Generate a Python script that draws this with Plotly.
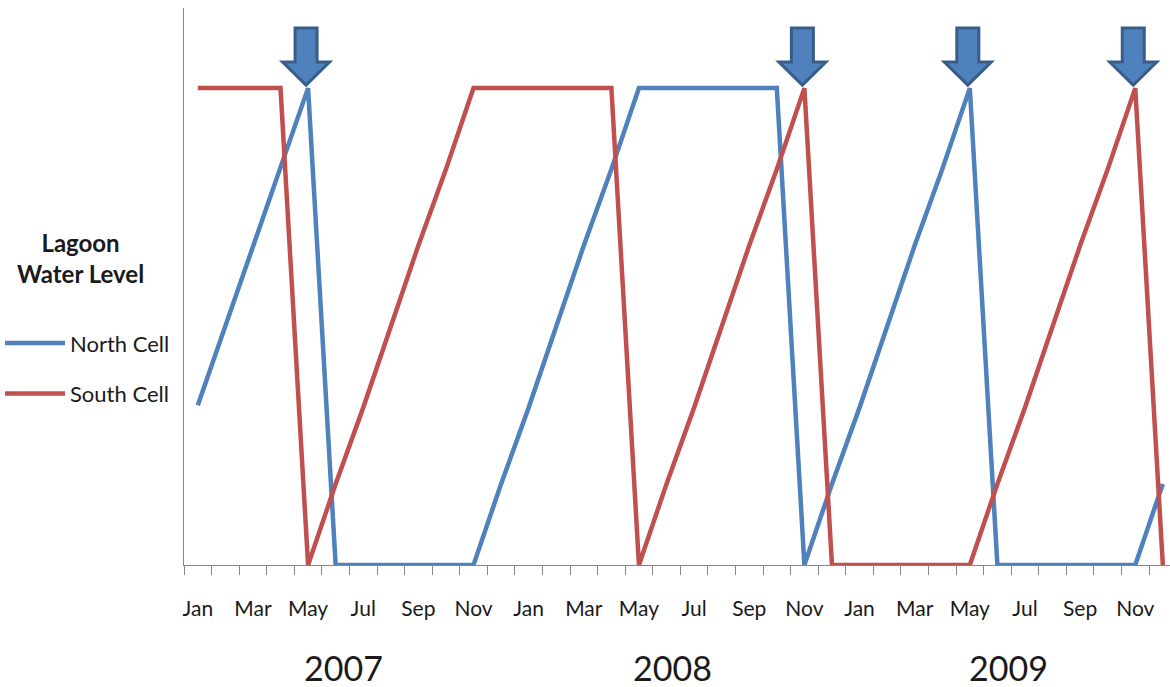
import plotly.graph_objects as go

# Monthly series, Jan 2007 - Dec 2009 (relative lagoon level, 0 = empty, 100 = full)
months = ["Jan", "Feb", "Mar", "Apr", "May", "Jun",
          "Jul", "Aug", "Sep", "Oct", "Nov", "Dec"] * 3
years = ["2007", "2008", "2009"]

north_cell = [33.5, 50, 67, 83, 100, 0, 0, 0, 0, 0, 0, 17,
              33, 50, 67, 83, 100, 100, 100, 100, 100, 100, 0, 17,
              33, 50, 67, 83, 100, 0, 0, 0, 0, 0, 0, 17]
south_cell = [100, 100, 100, 100, 0, 17, 33, 50, 67, 83, 100, 100,
              100, 100, 100, 100, 0, 17, 33, 50, 67, 83, 100, 0,
              0, 0, 0, 0, 0, 17, 33, 50, 67, 83, 100, 0]

# months where a cell reaches full level and is drained (marked by arrows)
drain_months = [4, 22, 28, 34]

FONT = "Lato, 'DejaVu Sans', sans-serif"
BLUE = "#4F81BD"
RED = "#C0504D"
AXIS = "#868686"
TEXT = "#1a1a1a"

# plot area geometry in pixels
WIDTH, HEIGHT = 1170, 687
M_L, M_R, M_T, M_B = 183, 0, 8, 122
plot_w = WIDTH - M_L - M_R
plot_h = HEIGHT - M_T - M_B

idx = list(range(len(months)))

fig = go.Figure()
fig.add_trace(go.Scatter(x=idx, y=north_cell, mode="lines", name="North Cell",
                         legendgroup="n", line=dict(color=BLUE, width=4.5)))
fig.add_trace(go.Scatter(x=idx, y=south_cell, mode="lines", name="South Cell",
                         legendgroup="s", line=dict(color=RED, width=4.5)))

# block arrows pointing down at the peaks, sized in pixels
arrow_path = ("M -2,3 L -25.5,26 L -13,26 L -13,60 L 9,60 L 9,26 L 21.5,26 Z")
for m in drain_months:
    fig.add_shape(type="path", xref="x", yref="y",
                  xsizemode="pixel", ysizemode="pixel",
                  xanchor=m, yanchor=max(north_cell[m], south_cell[m]),
                  path=arrow_path, fillcolor=BLUE,
                  line=dict(color="#385D8A", width=3), layer="above")

# year labels under the month ticks
year_x = [5.3, 17.2, 29.4]
for x, yr in zip(year_x, years):
    fig.add_annotation(x=x, y=0, xref="x", yref="paper", yshift=-102,
                       yanchor="middle",
                       text=yr, showarrow=False,
                       font=dict(size=34, color=TEXT, family=FONT))

# legend heading, centred over the legend entries
fig.add_annotation(x=(79 - M_L) / plot_w, y=(HEIGHT - M_B - 258) / plot_h,
                   xref="paper", yref="paper", xanchor="center", yanchor="middle",
                   text="<b>Lagoon<br>Water Level</b>", showarrow=False,
                   align="center", font=dict(size=24, color=TEXT, family=FONT))

fig.update_layout(
    width=WIDTH, height=HEIGHT,
    margin=dict(l=M_L, r=M_R, t=M_T, b=M_B),
    paper_bgcolor="white", plot_bgcolor="white",
    font=dict(family=FONT, color=TEXT),
    showlegend=True,
    legend=dict(x=-0.187, xanchor="left", y=0.436, yanchor="top",
                font=dict(size=22, family=FONT, color=TEXT),
                tracegroupgap=19, itemwidth=60, bgcolor="rgba(0,0,0,0)"),
    xaxis=dict(range=[-0.5, 35.26], showgrid=False, zeroline=False,
               showline=True, linecolor=AXIS, linewidth=1,
               tickmode="array", tickvals=idx[::2], ticktext=months[::2],
               ticks="outside", ticklen=25, tickcolor="rgba(0,0,0,0)",
               tickfont=dict(size=21, family=FONT, color=TEXT),
               minor=dict(tickmode="array",
                          tickvals=[i - 0.5 for i in range(len(months) + 1)],
                          ticks="outside", ticklen=9, tickcolor=AXIS, tickwidth=1)),
    yaxis=dict(range=[0, 116.8], showgrid=False, zeroline=False,
               showline=True, linecolor=AXIS, linewidth=1,
               showticklabels=False, ticks=""),
)

fig.write_html("out.html")
